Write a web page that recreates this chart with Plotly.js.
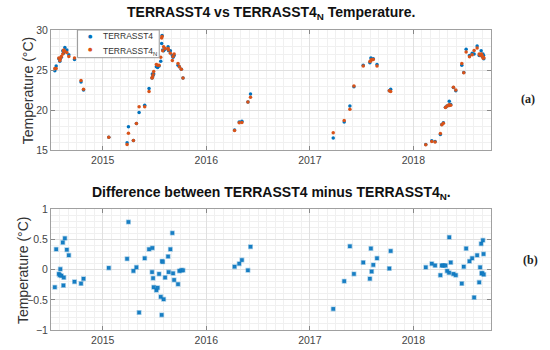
<!DOCTYPE html>
<html>
<head>
<meta charset="utf-8">
<script src="https://cdn.plot.ly/plotly-3.0.1.min.js"></script>
<style>html,body{margin:0;padding:0;background:#fff;}#chart{width:550px;height:350px;}</style>
</head>
<body>
<div id="chart"></div>
<script>
// decimal-year dates of each observation
const obsDates = [2014.537,2014.550,2014.576,2014.585,2014.590,2014.600,2014.614,2014.620,2014.624,2014.634,2014.653,2014.672,2014.727,2014.790,2014.814,
 2015.058,2015.235,2015.248,2015.296,2015.325,2015.351,2015.405,2015.447,2015.476,2015.479,2015.486,2015.492,2015.518,2015.530,2015.544,2015.560,2015.569,2015.573,2015.579,2015.588,2015.602,2015.631,2015.636,2015.653,2015.672,2015.679,2015.689,2015.727,2015.740,2015.759,2015.775,
 2016.273,2016.318,2016.344,2016.402,2016.427,
 2017.226,2017.332,2017.387,2017.426,2017.516,2017.580,2017.590,2017.597,2017.613,2017.649,2017.768,2017.781,
 2018.120,2018.178,2018.210,2018.261,2018.275,2018.290,2018.310,2018.326,2018.345,2018.347,2018.361,2018.387,2018.410,2018.468,2018.487,2018.510,2018.542,2018.568,2018.587,2018.616,2018.636,2018.645,2018.655,2018.660,2018.665,2018.672,2018.678,2018.680];
// TERRASST4 temperature (°C)
const sst4 = [24.9,25.5,26.4,26.1,26.4,26.6,27.4,27.1,27.4,27.8,27.5,26.9,26.3,23.5,22.5,
 16.6,15.9,17.9,16.2,18.3,19.7,20.6,22.7,24.0,24.5,24.3,24.5,25.4,25.3,25.5,26.1,28.3,29.3,27.5,27.4,27.6,27.9,27.4,27.4,26.8,26.6,26.8,25.6,25.4,25.1,24.0,
 17.5,18.5,18.6,21.0,22.0,
 16.5,18.5,20.5,22.9,25.6,25.9,26.5,26.3,26.4,25.7,22.4,22.6,
 15.7,16.15,16.05,16.95,18.2,18.4,20.35,20.5,20.6,21.1,20.7,22.8,22.4,25.6,24.7,27.6,26.8,27.1,27.0,28.0,26.8,26.9,27.4,26.9,26.7,27.0,26.8,26.4];
// TERRASST4_N temperature (°C)
const sst4n = [25.2,25.2,26.5,26.2,26.4,26.7,27.0,27.4,27.5,27.3,27.2,26.7,26.5,23.7,22.6,
 16.6,15.7,17.1,16.2,18.3,20.4,20.4,22.3,24.0,24.1,24.4,24.8,25.7,25.6,25.6,26.6,29.0,29.2,27.4,27.9,27.7,27.7,27.5,27.1,26.2,26.7,27.0,25.8,25.4,25.1,24.0,
 17.45,18.4,18.45,21.0,21.6,
 17.15,18.7,20.1,23.0,25.5,26.05,26.15,26.3,26.3,25.5,22.4,22.3,
 15.66,16.05,16.0,17.05,18.15,18.35,20.3,20.5,20.65,20.55,20.6,22.85,22.5,25.8,24.65,27.25,26.65,26.9,27.45,27.75,27.0,26.85,27.0,26.95,26.75,26.5,26.55,26.5];
// Difference TERRASST4 minus TERRASST4_N (°C)
const sstDiff = [-0.29,0.34,-0.07,-0.09,0.01,-0.10,0.45,-0.26,-0.13,0.52,0.33,0.24,-0.20,-0.23,-0.15,
 0.03,0.18,0.79,-0.02,0.04,-0.71,0.19,0.34,-0.04,0.36,-0.14,-0.29,-0.34,-0.30,-0.07,-0.45,-0.75,0.14,0.13,-0.49,-0.13,0.22,-0.04,0.34,0.61,-0.06,-0.17,-0.24,-0.02,-0.01,-0.01,
 0.05,0.10,0.16,-0.01,0.38,
 -0.65,-0.19,0.39,-0.07,0.12,-0.15,0.35,-0.03,0.08,0.19,0.02,0.31,
 0.04,0.10,0.07,-0.09,0.07,0.07,0.07,-0.02,-0.05,0.54,0.12,-0.07,-0.09,-0.23,0.05,0.35,0.14,0.19,-0.46,0.24,-0.21,0.04,0.43,-0.06,-0.06,0.49,0.26,-0.08];
const yearTicks = [2015,2016,2017,2018];
const yearLabels = ['2015','2016','2017','2018'];
const seriesNames = ['TERRASST4', 'TERRASST4<sub>N</sub>'];

const FONT = 'Liberation Sans, Arial, sans-serif';
const BLUE = '#0072BD', ORANGE = '#D95319';

const traces = [
  {x: obsDates, y: sst4, type: 'scatter', mode: 'markers', name: seriesNames[0],
   marker: {color: BLUE, size: 3.5}, xaxis: 'x', yaxis: 'y'},
  {x: obsDates, y: sst4n, type: 'scatter', mode: 'markers', name: seriesNames[1],
   marker: {color: ORANGE, size: 3.5}, xaxis: 'x', yaxis: 'y'},
  {x: obsDates, y: sstDiff, type: 'scatter', mode: 'markers', name: 'Difference',
   marker: {color: '#1a7fc4', size: 3.5, symbol: 'square', line: {color: 'rgba(0,114,189,0.35)', width: 1.5}}, xaxis: 'x2', yaxis: 'y2'}
];

function xax(anchor) {
  return {
    anchor: anchor, domain: [0, 1], range: [2014.5, 2018.75],
    tickmode: 'array', tickvals: yearTicks, ticktext: yearLabels,
    ticks: 'inside', ticklen: 4, tickcolor: '#888', mirror: 'ticks',
    showline: true, linecolor: '#a0a0a0', linewidth: 1,
    showgrid: true, gridcolor: '#e0e0e0', gridwidth: 1,
    minor: {dtick: 1/12, tick0: 2015, showgrid: true, gridcolor: '#f0f0f0', gridwidth: 1},
    tickfont: {family: FONT, size: 10.5, color: '#444'}, zeroline: false, fixedrange: true
  };
}
function yax(anchor, dom, rng, dt, mdt) {
  return {
    anchor: anchor, domain: dom, range: rng, dtick: dt, tick0: 0,
    ticks: 'inside', ticklen: 4, tickcolor: '#888', mirror: 'ticks',
    showline: true, linecolor: '#a0a0a0', linewidth: 1,
    showgrid: true, gridcolor: '#e0e0e0', gridwidth: 1,
    minor: {dtick: mdt, showgrid: true, gridcolor: '#f0f0f0', gridwidth: 1},
    tickfont: {family: FONT, size: 10.5, color: '#444'}, zeroline: false, fixedrange: true
  };
}

// compact legend box (MATLAB style) drawn in paper coordinates
const legendBox = {type: 'rect', xref: 'paper', yref: 'paper', x0: 0.0604, x1: 0.246, y0: 0.9077, y1: 1,
  fillcolor: '#fff', line: {color: '#999', width: 1}, layer: 'above'};
const legRowsY = [0.981, 0.9377];
const legColors = [BLUE, ORANGE];
const legendAnn = [];
seriesNames.forEach((nm, i) => {
  legendAnn.push({text: '●', xref: 'paper', yref: 'paper', x: 0.0893, y: legRowsY[i], xanchor: 'center', yanchor: 'middle',
    showarrow: false, font: {family: 'DejaVu Sans', size: 5, color: legColors[i]}});
  legendAnn.push({text: nm, xref: 'paper', yref: 'paper', x: 0.1136, y: legRowsY[i] - (i === 1 ? 0.008 : 0), xanchor: 'left', yanchor: 'middle',
    showarrow: false, font: {family: FONT, size: 8.5, color: '#333'}});
});

const layout = {
  width: 550, height: 350,
  margin: {l: 51, r: 59, t: 30, b: 20},
  paper_bgcolor: '#fff', plot_bgcolor: '#fff',
  showlegend: false,
  xaxis: xax('y'),
  yaxis: yax('x', [0.6, 1], [15, 30], 5, 1),
  xaxis2: xax('y2'),
  yaxis2: yax('x2', [0, 0.402], [-1, 1], 0.5, 0.1),
  shapes: [legendBox],
  annotations: [
    {text: '<b>TERRASST4 vs TERRASST4<sub>N</sub> Temperature.</b>', xref: 'paper', yref: 'paper',
     x: 0.5, y: 1.058, xanchor: 'center', yanchor: 'middle', showarrow: false,
     font: {family: FONT, size: 14, color: '#111'}},
    {text: '<b>Difference between TERRASST4 minus TERRASST4<sub>N</sub>.</b>', xref: 'paper', yref: 'paper',
     x: 0.5, y: 0.458, xanchor: 'center', yanchor: 'middle', showarrow: false,
     font: {family: FONT, size: 14, color: '#111'}},
    {text: 'Temperature (°C)', xref: 'paper', yref: 'paper', x: -0.0516, y: 0.8, textangle: -90,
     xanchor: 'center', yanchor: 'middle', showarrow: false, font: {family: FONT, size: 14, color: '#333'}},
    {text: 'Temperature (°C)', xref: 'paper', yref: 'paper', x: -0.065, y: 0.201, textangle: -90,
     xanchor: 'center', yanchor: 'middle', showarrow: false, font: {family: FONT, size: 14, color: '#333'}},
    {text: '<b>(a)</b>', xref: 'paper', yref: 'paper', x: 1.085, y: 0.77, xanchor: 'center', yanchor: 'middle',
     showarrow: false, font: {family: 'Liberation Serif, Times New Roman, serif', size: 12, color: '#222'}},
    {text: '<b>(b)</b>', xref: 'paper', yref: 'paper', x: 1.09, y: 0.234, xanchor: 'center', yanchor: 'middle',
     showarrow: false, font: {family: 'Liberation Serif, Times New Roman, serif', size: 12, color: '#222'}}
  ].concat(legendAnn)
};

Plotly.newPlot('chart', traces, layout, {displayModeBar: false, staticPlot: true});
</script>
</body>
</html>
